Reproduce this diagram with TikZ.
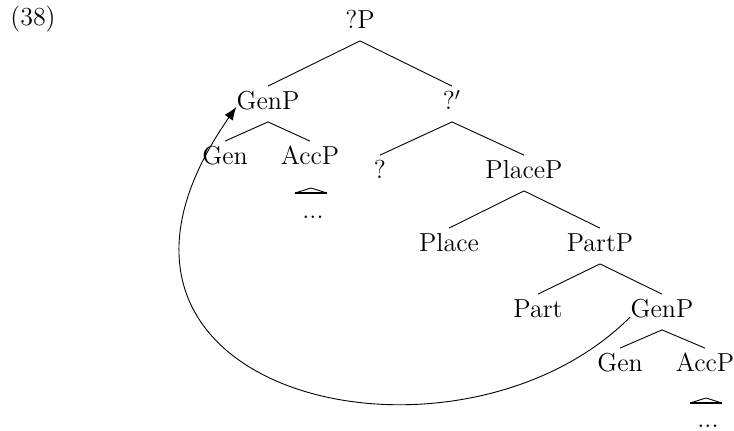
\documentclass[tikz,border=0pt]{standalone}
\usepackage{fontspec}
\usetikzlibrary{arrows.meta}
\begin{document}
\begin{tikzpicture}[x=0.5pt,y=-0.5pt,
  lbl/.style={font=\fontsize{13}{15}\selectfont, inner sep=0pt, anchor=base,
    text height=11.25pt, text depth=6.25pt},
  dotsnode/.style={font=\fontsize{13}{15}\selectfont, inner sep=0pt, anchor=base},
  branch/.style={line width=0.45pt},
  roofline/.style={line width=0.45pt},
  roofbase/.style={line width=1.1pt},
  movearrow/.style={line width=0.45pt, -{Latex[length=6.5pt,width=5pt]}}]
\useasboundingbox (0,0) rectangle (734,430);
\node[dotsnode] (ex) at (33,25) {(38)};
% tree nodes
\node[lbl] (qp)    at (360,28)  {?P};
\node[lbl] (genA)  at (268,109) {GenP};
\node[lbl] (qbar)  at (452,109) {?$'$};
\node[lbl] (genhA) at (225,164) {Gen};
\node[lbl] (accA)  at (310,164) {AccP};
\node[lbl] (q)     at (380,178) {?};
\node[lbl] (plp)   at (524,178) {PlaceP};
\node[lbl] (pl)    at (449,251) {Place};
\node[lbl] (ptp)   at (600,251) {PartP};
\node[lbl] (pt)    at (538,317) {Part};
\node[lbl] (genB)  at (662,317) {GenP};
\node[lbl] (genhB) at (620,371) {Gen};
\node[lbl] (accB)  at (705,371) {AccP};
\node[dotsnode] (dotsA) at (313,218) {...};
\node[dotsnode] (dotsB) at (708,427) {...};
% branches
\draw[branch] (qp.south) -- (genA.north);
\draw[branch] (qp.south) -- (qbar.north);
\draw[branch] (genA.south) -- (genhA.north);
\draw[branch] (genA.south) -- (accA.north);
\draw[branch] (qbar.south) -- (q.north);
\draw[branch] (qbar.south) -- (plp.north);
\draw[branch] (plp.south) -- (pl.north);
\draw[branch] (plp.south) -- (ptp.north);
\draw[branch] (ptp.south) -- (pt.north);
\draw[branch] (ptp.south) -- (genB.north);
\draw[branch] (genB.south) -- (genhB.north);
\draw[branch] (genB.south) -- (accB.north);
% roofs
\draw[roofline] (295,193) -- (311,188) -- (327,193);
\draw[roofbase] (295,193) -- (327,193);
\draw[roofline] (690,403) -- (706,398) -- (722,403);
\draw[roofbase] (690,403) -- (722,403);
% movement arrow
\draw[movearrow] (genB.base west) .. controls (455,492) and (35,395) .. ([yshift=1pt]genA.base west);
\end{tikzpicture}
\end{document}
